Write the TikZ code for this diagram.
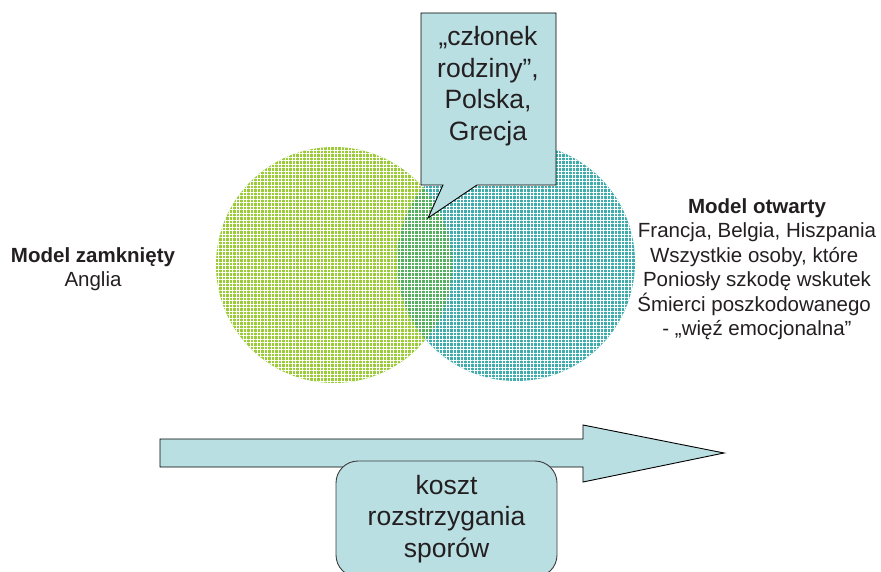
\documentclass[tikz,border=0pt]{standalone}
\usepackage{fontspec}
\setmainfont{Liberation Sans}
\usetikzlibrary{patterns.meta}

\definecolor{leaf}{RGB}{155,203,55}
\definecolor{sea}{RGB}{0,145,145}
\definecolor{paleblue}{RGB}{185,223,227}
\definecolor{ink}{RGB}{35,31,32}

\tikzdeclarepattern{
  name=mesh,
  type=uncolored,
  bottom left={(-.1pt,-.1pt)},
  top right={(3.6pt,3.6pt)},
  tile size={(3.5pt,3.5pt)},
  code={
    \draw[line width=.75pt] (0pt,1.75pt) -- (3.5pt,1.75pt)
      (1.75pt,0pt) -- (1.75pt,3.5pt);
  }
}

\begin{document}
\begin{tikzpicture}[ x=1pt, y=-1pt, closedset/.style={ circle,
          minimum size=236pt, inner sep=0pt, preaction={fill=leaf},
          pattern=mesh, pattern color=white },
        openset/.style={ circle, minimum size=238pt, inner sep=0pt,
          preaction={fill=sea, fill opacity=.75}, pattern=mesh,
          pattern color=white },
        panel/.style={ fill=paleblue, draw=black, line width=.9pt },
        sidenote/.style={ text=ink, align=center,
          font=\fontsize{20.5}{24.5}\selectfont },
        bigtext/.style={ text=ink, align=center,
          font=\fontsize{26.5}{31.5}\selectfont } ]
        \useasboundingbox (0,0) rectangle (881,572);

        \foreach \x/\y/\s/\n in {334/265/closedset/zamk,516/262/openset/otw}
        \node[\s] (\n) at (\x,\y) {};

        % czesc wspolna: zielen przeswituje przez turkus
        \begin{scope}
          \clip (otw.center) circle[radius=119];
          \fill[leaf, fill opacity=.4] (zamk.center) circle[radius=118];
          \path[pattern=mesh, pattern color=white, fill opacity=.5]
          (zamk.center) circle[radius=118];
        \end{scope}

        % dymek nad czescia wspolna
        \draw[panel] (421,13) -- (556,13) -- (556,185) -- (477,185) --
        (428,218) -- (443,185) -- (421,185) -- cycle;
        \node[bigtext] (czlonek) at (488,86)
        {„członek\\rodziny”,\\Polska,\\Grecja};

        \node[sidenote] (zamkniety) at (93,269)
        {\textbf{Model zamknięty}\\Anglia};
        \node[sidenote] (otwarty) at (757,269)
        {\textbf{Model otwarty}\\Francja, Belgia, Hiszpania\\Wszystkie
          osoby, które\ \hbox{}\\Poniosły szkodę wskutek\\Śmierci
          poszkodowanego\ \hbox{}\\- „więź emocjonalna”};

        % strzalka kosztow
        \draw[panel] (160,439) -- (583,439) -- (583,425) -- (724,453) --
        (583,482) -- (583,467) -- (160,467) -- cycle;
        \node[panel, draw={rgb,255:red,60;green,60;blue,60},
        rounded corners=22pt, minimum width=221pt, minimum height=116pt,
        bigtext] (koszt) at (446.5,519) {koszt\\rozstrzygania\\sporów};
      \end{tikzpicture}
\end{document}
